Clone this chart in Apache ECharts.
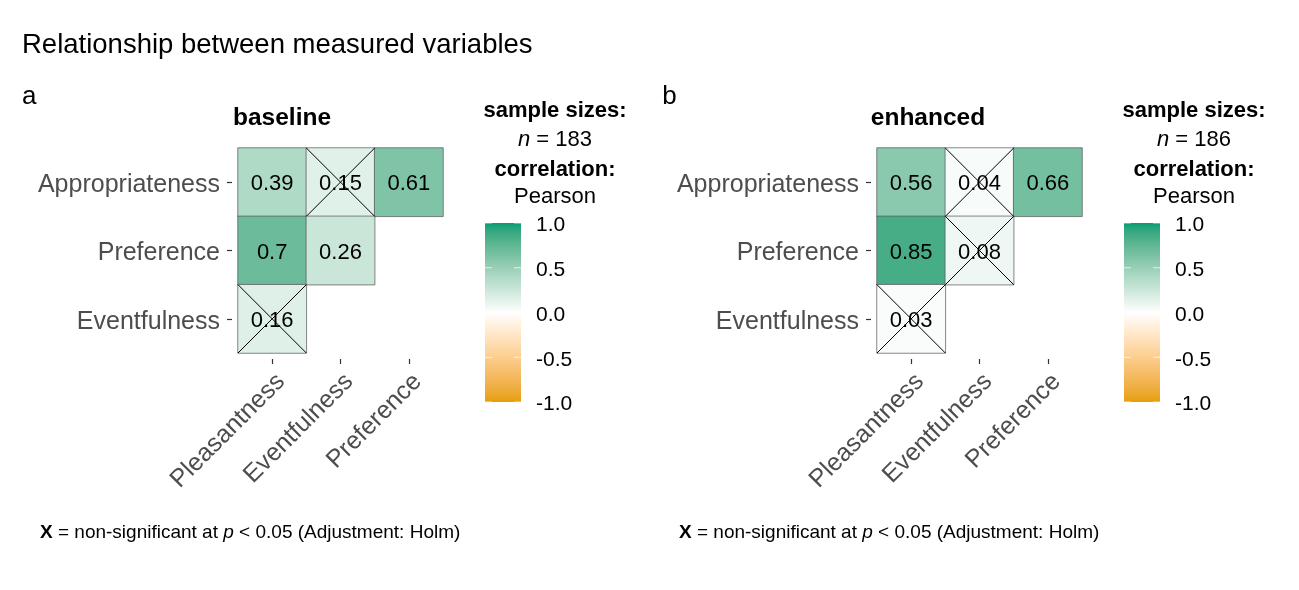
<!DOCTYPE html>
<html><head><meta charset="utf-8">
<script src="https://cdn.jsdelivr.net/npm/echarts@6/dist/echarts.min.js"></script>
<style>html,body{margin:0;padding:0;background:#fff}#c{width:1299px;height:590px}</style>
</head><body><div id="c"></div>
<script>
// ---- data ----
const xCats = ['Pleasantness', 'Eventfulness', 'Preference'];
const yCats = ['Appropriateness', 'Preference', 'Eventfulness'];
// [xIndex, yIndex, r]
const baselineValues = [[0,0,0.39],[1,0,0.15],[2,0,0.61],[0,1,0.70],[1,1,0.26],[0,2,0.16]];
const baselineNonSig = [[1,0],[0,2]];
const enhancedValues = [[0,0,0.56],[1,0,0.04],[2,0,0.66],[0,1,0.85],[1,1,0.08],[0,2,0.03]];
const enhancedNonSig = [[1,0],[1,1],[0,2]];
const legendTicks = [-1, -0.5, 0, 0.5, 1];
const panelTitles = ['baseline', 'enhanced'];
const panelTags = ['a', 'b'];
const sampleSizes = [183, 186];

// ---- colour helpers (Lab interpolation like ggplot) ----
const LOW = '#E69F00', MID = '#FFFFFF', HIGH = '#009E73';
function s2l(c){c/=255;return c<=0.04045?c/12.92:Math.pow((c+0.055)/1.055,2.4);}
function l2s(c){c=c<=0.0031308?12.92*c:1.055*Math.pow(c,1/2.4)-0.055;return Math.round(Math.max(0,Math.min(1,c))*255);}
function hexToLab(h){
  const r=s2l(parseInt(h.slice(1,3),16)),g=s2l(parseInt(h.slice(3,5),16)),b=s2l(parseInt(h.slice(5,7),16));
  const X=(0.4124*r+0.3576*g+0.1805*b)/0.95047, Y=0.2126*r+0.7152*g+0.0722*b, Z=(0.0193*r+0.1192*g+0.9505*b)/1.08883;
  const f=t=>t>0.008856?Math.cbrt(t):7.787*t+16/116;
  return [116*f(Y)-16, 500*(f(X)-f(Y)), 200*(f(Y)-f(Z))];
}
function labToRgb(L,a,b){
  const fy=(L+16)/116, fx=fy+a/500, fz=fy-b/200;
  const fi=t=>t*t*t>0.008856?t*t*t:(t-16/116)/7.787;
  const X=fi(fx)*0.95047, Y=fi(fy), Z=fi(fz)*1.08883;
  const r=3.2406*X-1.5372*Y-0.4986*Z, g=-0.9689*X+1.8758*Y+0.0415*Z, bb=0.0557*X-0.2040*Y+1.0570*Z;
  return 'rgb('+l2s(r)+','+l2s(g)+','+l2s(bb)+')';
}
function mix(h1,h2,t){const A=hexToLab(h1),B=hexToLab(h2);return labToRgb(A[0]+(B[0]-A[0])*t,A[1]+(B[1]-A[1])*t,A[2]+(B[2]-A[2])*t);}
function colorAt(v){return v<0?mix(LOW,MID,v+1):mix(MID,HIGH,v);}
const stops=[];for(let i=0;i<=40;i++){stops.push(colorAt(-1+i*0.05));}
const gradStops=stops.map((c,i)=>({offset:1-i/40,color:c}));

const FONT='"Liberation Sans", Arial, Helvetica, sans-serif';
const chart = echarts.init(document.getElementById('c'));

const panels=[{values:baselineValues,ns:baselineNonSig,left:238},{values:enhancedValues,ns:enhancedNonSig,left:877}];
const grids=[], xAxes=[], yAxes=[], series=[], visualMaps=[], graphics=[];
const DX=639;

panels.forEach((p,k)=>{
  grids.push({left:p.left, top:148, width:205, height:205});
  xAxes.push({type:'category', gridIndex:k, data:xCats, position:'bottom', offset:6,
    axisLine:{show:false}, axisTick:{show:true, alignWithLabel:true, length:5, lineStyle:{color:'#333',width:1.2}},
    axisLabel:{rotate:45, fontSize:25, color:'#4d4d4d', fontFamily:FONT, margin:10, interval:0, align:'right', verticalAlign:'top'},
    splitLine:{show:false}});
  yAxes.push({type:'category', gridIndex:k, data:yCats, inverse:true, offset:6,
    axisLine:{show:false}, axisTick:{show:true, alignWithLabel:true, length:5, lineStyle:{color:'#333',width:1.2}},
    axisLabel:{fontSize:25, color:'#4d4d4d', fontFamily:FONT, margin:12, interval:0,
      formatter:v=>'{t|'+v+'}', rich:{t:{fontSize:25, color:'#4d4d4d', fontFamily:FONT, padding:[6,0,0,0]}}},
    splitLine:{show:false}});
});
panels.forEach((p,k)=>{
  grids.push({left:485+k*DX, top:223, width:36, height:179});
  xAxes.push({type:'value', gridIndex:2+k, min:0, max:1, show:false});
  yAxes.push({type:'value', gridIndex:2+k, min:-1, max:1, interval:0.5, position:'right',
    axisLine:{show:false}, axisTick:{show:false}, splitLine:{show:false},
    axisLabel:{fontSize:21, color:'#000', fontFamily:FONT, margin:15,
      formatter:v=>'{t|'+v.toFixed(1)+'}', rich:{t:{fontSize:21, color:'#000', fontFamily:FONT, padding:[5,0,0,0]}}}});
});

panels.forEach((p,k)=>{
  series.push({type:'heatmap', xAxisIndex:k, yAxisIndex:k, data:p.values,
    itemStyle:{borderColor:'#555', borderWidth:0.7},
    label:{show:true, fontSize:22, color:'#000', fontFamily:FONT, offset:[0,2], formatter:d=>String(d.value[2])},
    emphasis:{disabled:true}, z:2});
  visualMaps.push({type:'continuous', show:false, min:-1, max:1, dimension:2, seriesIndex:series.length-1, inRange:{color:stops}});
});
panels.forEach((p,k)=>{
  series.push({type:'custom', xAxisIndex:k, yAxisIndex:k, data:p.ns, z:10, silent:true,
    renderItem:(params,api)=>{
      const c=api.coord([api.value(0),api.value(1)]), s=api.size([1,1]);
      const x0=c[0]-s[0]/2, x1=c[0]+s[0]/2, y0=c[1]-s[1]/2, y1=c[1]+s[1]/2;
      return {type:'group', children:[
        {type:'line', shape:{x1:x0,y1:y0,x2:x1,y2:y1}, style:{stroke:'#000', lineWidth:1}},
        {type:'line', shape:{x1:x0,y1:y1,x2:x1,y2:y0}, style:{stroke:'#000', lineWidth:1}}]};
    }});
});
panels.forEach((p,k)=>{
  series.push({type:'custom', xAxisIndex:2+k, yAxisIndex:2+k, data:[[0,0]], silent:true,
    renderItem:(params,api)=>{
      const tl=api.coord([0,1]), br=api.coord([1,-1]);
      const ch=[{type:'rect', shape:{x:tl[0], y:tl[1], width:br[0]-tl[0], height:br[1]-tl[1]},
        style:{fill:new echarts.graphic.LinearGradient(0,0,0,1,gradStops)}}];
      legendTicks.forEach(v=>{
        const y=api.coord([0,v])[1];
        ch.push({type:'line', shape:{x1:tl[0],y1:y,x2:tl[0]+7,y2:y}, style:{stroke:'rgba(255,255,255,0.7)', lineWidth:1}});
        ch.push({type:'line', shape:{x1:br[0]-7,y1:y,x2:br[0],y2:y}, style:{stroke:'rgba(255,255,255,0.7)', lineWidth:1}});
      });
      return {type:'group', children:ch};
    }});
});

function txt(text,x,y,opt){
  return {type:'text', x:x, y:y, silent:true, style:Object.assign({text:text, fill:'#000', font:'22px '+FONT, textVerticalAlign:'middle', textAlign:'left'},opt||{})};
}
graphics.push(txt('Relationship between measured variables',22,45,{font:'27.5px '+FONT}));
panels.forEach((p,k)=>{
  const o=k*DX;
  graphics.push(txt(panelTags[k],22+o*1.002,97,{font:'26px '+FONT}));
  graphics.push(txt(panelTitles[k],[282,928][k],118,{font:'bold 24.5px '+FONT, textAlign:'center'}));
  graphics.push(txt('sample sizes:',555+o,111,{font:'bold 22px '+FONT, textAlign:'center'}));
  graphics.push(txt('{i|n} = '+sampleSizes[k],555+o,140,{font:'22px '+FONT, textAlign:'center',
    rich:{i:{fontStyle:'italic', fontSize:22, fontFamily:FONT}}}));
  graphics.push(txt('correlation:',555+o,170,{font:'bold 22px '+FONT, textAlign:'center'}));
  graphics.push(txt('Pearson',555+o,197,{font:'22px '+FONT, textAlign:'center'}));
  graphics.push(txt('{b|X} = non-significant at {i|p} < 0.05 (Adjustment: Holm)',40+o,533,{font:'19px '+FONT,
    rich:{b:{fontWeight:'bold', fontSize:19, fontFamily:FONT}, i:{fontStyle:'italic', fontSize:19, fontFamily:FONT}}}));
});

chart.setOption({
  backgroundColor:'#fff', animation:false,
  grid:grids, xAxis:xAxes, yAxis:yAxes, visualMap:visualMaps, series:series, graphic:graphics
});
</script></body></html>
